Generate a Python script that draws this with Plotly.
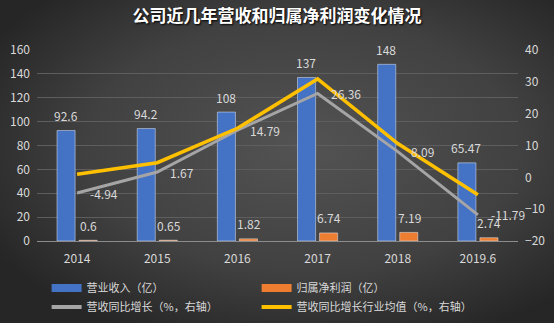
import base64
import plotly.graph_objects as go

years = ["2014", "2015", "2016", "2017", "2018", "2019.6"]
revenue = [92.6, 94.2, 108, 137, 148, 65.47]
net_profit = [0.6, 0.65, 1.82, 6.74, 7.19, 2.74]
rev_growth = [-4.94, 1.67, 14.79, 26.36, 8.09, -11.79]
industry_growth = [1.0, 4.6, 15.4, 30.9, 10.6, -5.5]

W, H = 554, 323
ML, MR, MT, MB = 37, 36, 50, 82
PW, PH = W - ML - MR, H - MT - MB

FONT = "Noto Sans CJK SC, DejaVu Sans, sans-serif"
TXT = "#d9d9d9"
BLUE, ORANGE, GRAY, YELLOW = "#4472C4", "#ED7D31", "#A5A5A5", "#FFC000"

svg = f'''<svg xmlns="http://www.w3.org/2000/svg" width="{W}" height="{H}">
<defs><radialGradient id="g" cx="55%" cy="45%" r="65%">
<stop offset="0%" stop-color="#535353"/><stop offset="60%" stop-color="#414141"/>
<stop offset="100%" stop-color="#262626"/></radialGradient></defs>
<rect width="{W}" height="{H}" fill="url(#g)"/></svg>'''
bg = "data:image/svg+xml;base64," + base64.b64encode(svg.encode()).decode()

fig = go.Figure()
fig.add_trace(go.Bar(x=years, y=revenue, name="营业收入（亿）", marker_color=BLUE, showlegend=False))
fig.add_trace(go.Bar(x=years, y=net_profit, name="归属净利润（亿）", marker_color=ORANGE, showlegend=False))
fig.add_trace(go.Scatter(x=years, y=rev_growth, name="营收同比增长（%，右轴）", yaxis="y2",
                         mode="lines", line=dict(color=GRAY, width=3), showlegend=False))
fig.add_trace(go.Scatter(x=years, y=industry_growth, name="营收同比增长行业均值（%，右轴）", yaxis="y2",
                         mode="lines", line=dict(color=YELLOW, width=3.5), showlegend=False))

# legend entries (Excel-like wide swatches)
for name, color, w in [("营业收入（亿）", BLUE, 8), ("归属净利润（亿）", ORANGE, 8),
                       ("营收同比增长（%，右轴）", GRAY, 4), ("营收同比增长行业均值（%，右轴）", YELLOW, 4)]:
    fig.add_trace(go.Scatter(x=[None], y=[None], mode="lines", name=name,
                             line=dict(color=color, width=w), showlegend=True, hoverinfo="skip"))

ann = []
for i, v in enumerate(revenue):
    ann.append(dict(x=i, y=v, xref="x", yref="y", text=f"{v:g}", showarrow=False,
                    xshift=-11.5, yshift=15, yanchor="middle", font=dict(size=12, color=TXT, family=FONT)))
for i, v in enumerate(net_profit):
    ann.append(dict(x=i, y=v, xref="x", yref="y", text=f"{v:g}", showarrow=False,
                    xshift=11.5, yshift=15, yanchor="middle", font=dict(size=12, color=TXT, family=FONT)))
for i, v in enumerate(rev_growth):
    ann.append(dict(x=i, y=v, xref="x", yref="y2", text=f"{v:g}", showarrow=False,
                    xshift=11, xanchor="left", yanchor="middle", font=dict(size=12, color=TXT, family=FONT)))

fig.update_layout(
    width=W, height=H,
    margin=dict(l=ML, r=MR, t=MT, b=MB, autoexpand=False),
    paper_bgcolor="#3a3a3a", plot_bgcolor="rgba(0,0,0,0)",
    images=[dict(source=bg, xref="paper", yref="paper", x=-ML / PW, y=1 + MT / PH,
                 sizex=W / PW, sizey=H / PH, sizing="stretch", layer="below",
                 xanchor="left", yanchor="top")],
    title=dict(text="公司近几年营收和归属净利润变化情况", x=0.5, xanchor="center", y=0.95, yanchor="middle",
               font=dict(size=17, color="#ffffff", family=FONT, weight="bold", shadow="1px 1px 2px #000")),
    barmode="group", bargap=0.45, bargroupgap=0.18,
    xaxis=dict(type="category", range=[-0.5, len(years) - 0.5], showline=True, linecolor="#8c8c8c",
               linewidth=1, ticks="", showgrid=False,
               tickfont=dict(size=12, color=TXT, family=FONT), ticklabelstandoff=7),
    yaxis=dict(range=[0, 160], dtick=20, showgrid=True, gridcolor="#5e5e5e", gridwidth=1,
               zeroline=False, tickfont=dict(size=12, color=TXT, family=FONT), ticks="", ticklabelstandoff=6),
    yaxis2=dict(range=[-20, 40], dtick=10, overlaying="y", side="right", showgrid=False,
                zeroline=False, tickfont=dict(size=12, color=TXT, family=FONT), ticks="", ticklabelstandoff=6),
    legend=dict(orientation="h", x=0.02, xanchor="left", y=-0.17, yanchor="top",
                entrywidth=165, font=dict(size=11, color=TXT, family=FONT),
                bgcolor="rgba(0,0,0,0)", traceorder="normal", tracegroupgap=0, itemwidth=30),
    annotations=ann,
    showlegend=True,
)

fig.write_html("out.html")
